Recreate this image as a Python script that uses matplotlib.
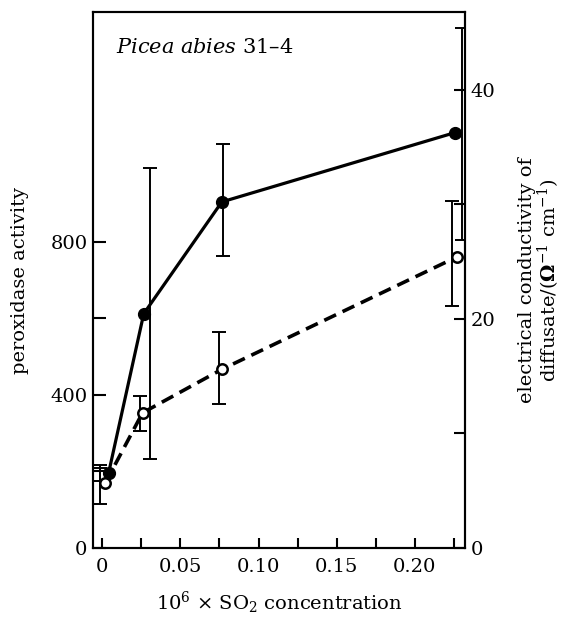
import matplotlib
matplotlib.use("Agg")
import matplotlib.pyplot as plt
import numpy as np

plt.rcParams['font.family'] = ['DejaVu Serif']
plt.rcParams['mathtext.fontset'] = 'dejavuserif'

# peroxidase activity (filled circles, left axis)
so2_filled = [0.004, 0.0265, 0.0765, 0.2258]
peroxidase = [196, 612, 904, 1085]
perox_bar_x = [-0.0015, 0.0305, 0.0775, 0.2305]
perox_low = [175, 233, 763, 805]
perox_high = [217, 993, 1054, 1359]

# electrical conductivity (open circles, right axis)
so2_open = [0.002, 0.0257, 0.0765, 0.2268]
conductivity = [5.7, 11.8, 15.6, 25.4]
cond_bar_x = [-0.0014, 0.024, 0.075, 0.2238]
cond_low = [3.8, 10.2, 12.6, 21.1]
cond_high = [7.0, 13.3, 18.9, 30.3]

x_ticks = [0, 0.025, 0.05, 0.075, 0.10, 0.125, 0.15, 0.175, 0.20, 0.225]
x_labels = ['0', '', '0.05', '', '0.10', '', '0.15', '', '0.20', '']
left_ticks = [0, 200, 400, 600, 800]
left_labels = ['0', '', '400', '', '800']
right_ticks = [0, 10, 20, 30, 40]
right_labels = ['0', '', '20', '', '40']

fig = plt.figure(figsize=(5.61, 6.19), dpi=100)
ax = fig.add_axes([93/561, 1-548/619, 372/561, 536/619])
ax2 = ax.twinx()

fs = 14
lw_sp = 1.5

# peroxidase
yerr = [np.array(peroxidase) - np.array(perox_low),
        np.array(perox_high) - np.array(peroxidase)]
ax.errorbar(perox_bar_x, peroxidase, yerr=yerr, fmt='none', ecolor='black',
            elinewidth=1.4, capsize=5, capthick=1.4, zorder=2)
ax.plot(so2_filled, peroxidase, '-', color='black', lw=2.3,
        marker='o', markersize=8.5, markerfacecolor='black', zorder=3)

# conductivity
cerr = [np.array(conductivity) - np.array(cond_low),
        np.array(cond_high) - np.array(conductivity)]
ax2.errorbar(cond_bar_x, conductivity, yerr=cerr, fmt='none', ecolor='black',
             elinewidth=1.4, capsize=5, capthick=1.4, zorder=2)
ln, = ax2.plot(so2_open, conductivity, '--', color='black', lw=2.6,
               marker='o', markersize=7.5, markerfacecolor='white',
               markeredgewidth=1.8, zorder=3)
ln.set_dashes((3.6, 2.0))

ax.set_xlim(-0.006, 0.2322)
ax.set_ylim(0, 1400)
ax2.set_ylim(0, 46.8)

ax.set_xticks(x_ticks)
ax.set_xticklabels(x_labels, fontsize=fs)
ax.set_yticks(left_ticks)
ax.set_yticklabels(left_labels, fontsize=fs)
ax2.set_yticks(right_ticks)
ax2.set_yticklabels(right_labels, fontsize=fs)

ax.tick_params(axis='x', direction='in', length=7, width=lw_sp, pad=7)
ax.tick_params(axis='y', direction='in', length=9, width=lw_sp, pad=4)
ax2.tick_params(axis='y', direction='in', length=8, width=lw_sp, pad=4)
for a in (ax, ax2):
    for s in a.spines.values():
        s.set_linewidth(lw_sp)

ax.set_xlabel('10$^{6}$ × SO$_{2}$ concentration', fontsize=fs, labelpad=10)
ax.set_ylabel('peroxidase activity', fontsize=fs, labelpad=15)
ax2.set_ylabel('electrical conductivity of\ndiffusate/($\\mathbf{\\Omega}^{-1}$ cm$^{-1}$)',
               fontsize=fs, labelpad=16, linespacing=1.0)

ax.text(0.062, 0.933, '$\\mathit{Picea\\ abies}$ 31–4', transform=ax.transAxes,
        fontsize=15, va='center', ha='left')

fig.savefig('out.png', dpi=100)
